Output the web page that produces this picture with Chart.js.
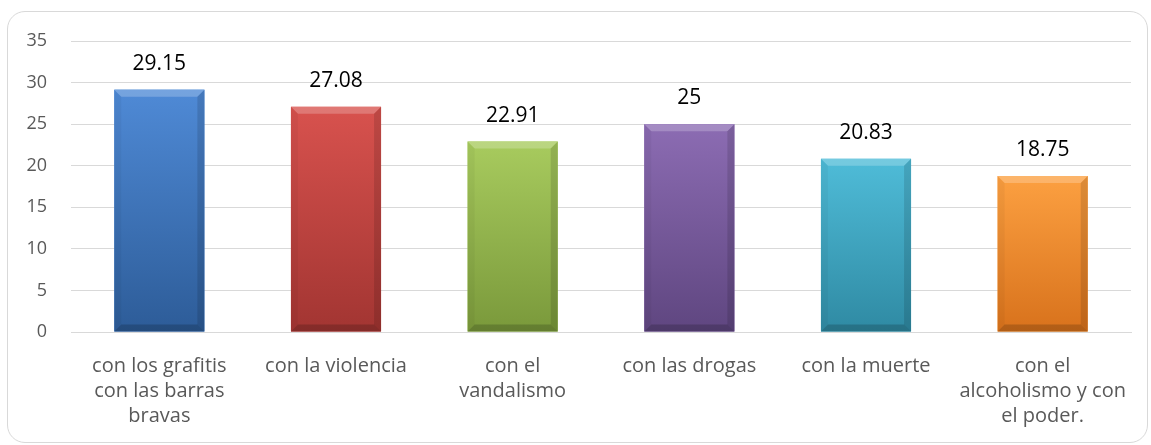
<!DOCTYPE html>
<html>
<head>
<meta charset="utf-8">
<script src="https://cdn.jsdelivr.net/npm/chart.js@4"></script>
<style>
    body { margin: 0; background: #fff; }
    #frame {
        position: absolute; left: 7px; top: 11px; width: 1139px; height: 430px;
        border: 1px solid #d9d9d9; border-radius: 18px;
    }
    #chart { position: absolute; left: 0; top: 0; }
</style>
</head>
<body>
<div id="frame"></div>
<canvas id="chart" width="1151" height="445"></canvas>
<script>
// Chart data
const categories = [
    ['con los grafitis', 'con las barras', 'bravas'],
    'con la violencia',
    ['con el', 'vandalismo'],
    'con las drogas',
    'con la muerte',
    ['con el', 'alcoholismo y con', 'el poder.']
];
const values = [29.15, 27.08, 22.91, 25, 20.83, 18.75];
const valueLabels = ['29.15', '27.08', '22.91', '25', '20.83', '18.75'];
const yTicks = [0, 5, 10, 15, 20, 25, 30, 35];

// Bar colours (top / bottom shade)
const barTop = ['#4f8ad6', '#d8524e', '#a8cb5e', '#8c6cb3', '#4fbcd8', '#fca041'];
const barBottom = ['#2d5c98', '#a23532', '#7a993b', '#5f4680', '#2f8aa3', '#d8721c'];

const fontFamily = '"Open Sans", sans-serif';

// Excel-like bevel on each bar
const bevelPlugin = {
    id: 'bevel',
    afterDatasetsDraw(chart) {
        const ctx = chart.ctx;
        const meta = chart.getDatasetMeta(0);
        meta.data.forEach((bar, i) => {
            const left = bar.x - bar.width / 2;
            const right = bar.x + bar.width / 2;
            const top = bar.y;
            const bottom = bar.base;
            const b = 7;
            ctx.save();
            // body gradient
            const g = ctx.createLinearGradient(0, top, 0, bottom);
            g.addColorStop(0, barTop[i]);
            g.addColorStop(1, barBottom[i]);
            ctx.fillStyle = g;
            ctx.fillRect(left, top, right - left, bottom - top);
            // top bevel (lighter)
            ctx.fillStyle = 'rgba(255,255,255,0.22)';
            ctx.beginPath();
            ctx.moveTo(left, top); ctx.lineTo(right, top);
            ctx.lineTo(right - b, top + b); ctx.lineTo(left + b, top + b);
            ctx.closePath(); ctx.fill();
            // left bevel
            ctx.fillStyle = 'rgba(0,0,0,0.04)';
            ctx.beginPath();
            ctx.moveTo(left, top); ctx.lineTo(left + b, top + b);
            ctx.lineTo(left + b, bottom - b); ctx.lineTo(left, bottom);
            ctx.closePath(); ctx.fill();
            // right bevel
            ctx.fillStyle = 'rgba(0,0,0,0.12)';
            ctx.beginPath();
            ctx.moveTo(right, top); ctx.lineTo(right - b, top + b);
            ctx.lineTo(right - b, bottom - b); ctx.lineTo(right, bottom);
            ctx.closePath(); ctx.fill();
            // bottom bevel
            ctx.fillStyle = 'rgba(0,0,0,0.18)';
            ctx.beginPath();
            ctx.moveTo(left, bottom); ctx.lineTo(left + b, bottom - b);
            ctx.lineTo(right - b, bottom - b); ctx.lineTo(right, bottom);
            ctx.closePath(); ctx.fill();
            ctx.restore();
        });
    }
};

// Value labels above bars
const valueLabelPlugin = {
    id: 'valueLabels',
    afterDatasetsDraw(chart) {
        const ctx = chart.ctx;
        const meta = chart.getDatasetMeta(0);
        ctx.save();
        ctx.font = '21px ' + fontFamily;
        ctx.fillStyle = '#000';
        ctx.textAlign = 'center';
        ctx.textBaseline = 'middle';
        meta.data.forEach((bar, i) => {
            ctx.fillText(valueLabels[i], bar.x, bar.y - 26);
        });
        ctx.restore();
    }
};

new Chart(document.getElementById('chart'), {
    type: 'bar',
    data: {
        labels: categories,
        datasets: [{
            data: values,
            backgroundColor: barTop,
            borderWidth: 0,
            barPercentage: 0.51,
            categoryPercentage: 1
        }]
    },
    options: {
        responsive: false,
        animation: false,
        layout: { padding: { top: 41, right: 20, bottom: 0, left: 0 } },
        plugins: {
            legend: { display: false },
            tooltip: { enabled: false }
        },
        scales: {
            x: {
                grid: { display: false, drawTicks: false },
                border: { color: '#d9d9d9', width: 1 },
                ticks: {
                    color: '#595959',
                    padding: 22,
                    maxRotation: 0,
                    autoSkip: false,
                    font: { family: fontFamily, size: 20, lineHeight: 1.25 }
                },
                afterFit: s => { s.height = 113; }
            },
            y: {
                min: 0,
                max: 35,
                afterBuildTicks: s => { s.ticks = yTicks.map(v => ({ value: v })); },
                grid: { color: '#d9d9d9', drawTicks: false },
                border: { display: false },
                ticks: {
                    color: '#595959',
                    padding: 24,
                    font: { family: fontFamily, size: 18 }
                },
                afterFit: s => { s.width = 71; }
            }
        }
    },
    plugins: [bevelPlugin, valueLabelPlugin]
});
</script>
</body>
</html>
